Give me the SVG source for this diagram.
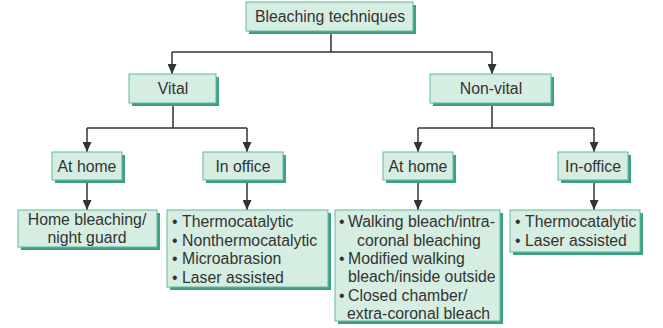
<svg xmlns="http://www.w3.org/2000/svg" width="663" height="328" viewBox="0 0 663 328">
<style>
.sh{fill:#3f9f84}
.bx{fill:#d6ede2;stroke:#62b99e;stroke-width:1}
text{font-family:"Liberation Sans",Arial,sans-serif;font-size:15.8px;fill:#333}
.c{text-anchor:middle}
.ln{fill:none;stroke:#333;stroke-width:1.5}
</style>
<defs>
<marker id="ah" viewBox="0 0 10 9" refX="10" refY="4.5" markerWidth="10" markerHeight="9" markerUnits="userSpaceOnUse" orient="auto">
<path d="M0,0 L10,4.5 L0,9 z" fill="#333"/>
</marker>
</defs>
<rect width="663" height="328" fill="#fff"/>
<g id="connectors">
<path class="ln" d="M331,34 V52 M172,52 H492"/>
<path class="ln" d="M172,52 V74" marker-end="url(#ah)"/>
<path class="ln" d="M492,52 V74" marker-end="url(#ah)"/>
<path class="ln" d="M173,106 V128 M87,128 H247"/>
<path class="ln" d="M87,128 V152" marker-end="url(#ah)"/>
<path class="ln" d="M247,128 V152" marker-end="url(#ah)"/>
<path class="ln" d="M492,106 V128 M418,128 H594"/>
<path class="ln" d="M418,128 V152" marker-end="url(#ah)"/>
<path class="ln" d="M594,128 V152" marker-end="url(#ah)"/>
<path class="ln" d="M87,183 V210" marker-end="url(#ah)"/>
<path class="ln" d="M247,183 V210" marker-end="url(#ah)"/>
<path class="ln" d="M418,183 V210" marker-end="url(#ah)"/>
<path class="ln" d="M594,183 V210" marker-end="url(#ah)"/>
</g>
<g id="root">
<rect class="sh" x="249" y="5" width="167" height="29"/>
<rect class="bx" x="246" y="2" width="167" height="29"/>
<text class="c" x="330" y="22">Bleaching techniques</text>
</g>
<g id="vital">
<rect class="sh" x="132" y="77" width="87" height="29"/>
<rect class="bx" x="129" y="74" width="87" height="29"/>
<text class="c" x="173" y="94">Vital</text>
</g>
<g id="nonvital">
<rect class="sh" x="433" y="77" width="121" height="29"/>
<rect class="bx" x="430" y="74" width="121" height="29"/>
<text class="c" x="491" y="94">Non-vital</text>
</g>
<g id="vital-home">
<rect class="sh" x="55" y="155" width="70" height="28"/>
<rect class="bx" x="52" y="152" width="70" height="28"/>
<text class="c" x="87" y="171.5">At home</text>
</g>
<g id="vital-office">
<rect class="sh" x="206" y="155" width="80" height="28"/>
<rect class="bx" x="203" y="152" width="80" height="28"/>
<text class="c" x="243" y="171.5">In office</text>
</g>
<g id="nonvital-home">
<rect class="sh" x="386" y="155" width="70" height="28"/>
<rect class="bx" x="383" y="152" width="70" height="28"/>
<text class="c" x="418" y="171.5">At home</text>
</g>
<g id="nonvital-office">
<rect class="sh" x="561" y="155" width="70" height="28"/>
<rect class="bx" x="558" y="152" width="70" height="28"/>
<text class="c" x="593" y="171.5">In-office</text>
</g>
<g id="vital-home-list">
<rect class="sh" x="21" y="213" width="139" height="37"/>
<rect class="bx" x="18" y="210" width="139" height="37"/>
<text class="c" x="87" y="225">Home bleaching/</text>
<text class="c" x="87" y="243">night guard</text>
</g>
<g id="vital-office-list">
<rect class="sh" x="170" y="213" width="161" height="77"/>
<rect class="bx" x="167" y="210" width="161" height="77"/>
<text x="172" y="227">•</text><text x="182" y="227">Thermocatalytic</text>
<text x="172" y="245.5">•</text><text x="182" y="245.5">Nonthermocatalytic</text>
<text x="172" y="264">•</text><text x="182" y="264">Microabrasion</text>
<text x="172" y="282.5">•</text><text x="182" y="282.5">Laser assisted</text>
</g>
<g id="nonvital-home-list">
<rect class="sh" x="338" y="213" width="165" height="111"/>
<rect class="bx" x="335" y="210" width="165" height="111"/>
<text x="339" y="227">•</text><text x="348" y="227">Walking bleach/intra-</text>
<text x="357" y="245.5">coronal bleaching</text>
<text x="339" y="264">•</text><text x="348" y="264">Modified walking</text>
<text x="348" y="282">bleach/inside outside</text>
<text x="339" y="300.5">•</text><text x="348" y="300.5">Closed chamber/</text>
<text x="347" y="319">extra-coronal bleach</text>
</g>
<g id="nonvital-office-list">
<rect class="sh" x="513" y="213" width="130" height="42"/>
<rect class="bx" x="510" y="210" width="130" height="42"/>
<text x="515" y="227">•</text><text x="525" y="227">Thermocatalytic</text>
<text x="515" y="245.5">•</text><text x="525" y="245.5">Laser assisted</text>
</g>
</svg>
